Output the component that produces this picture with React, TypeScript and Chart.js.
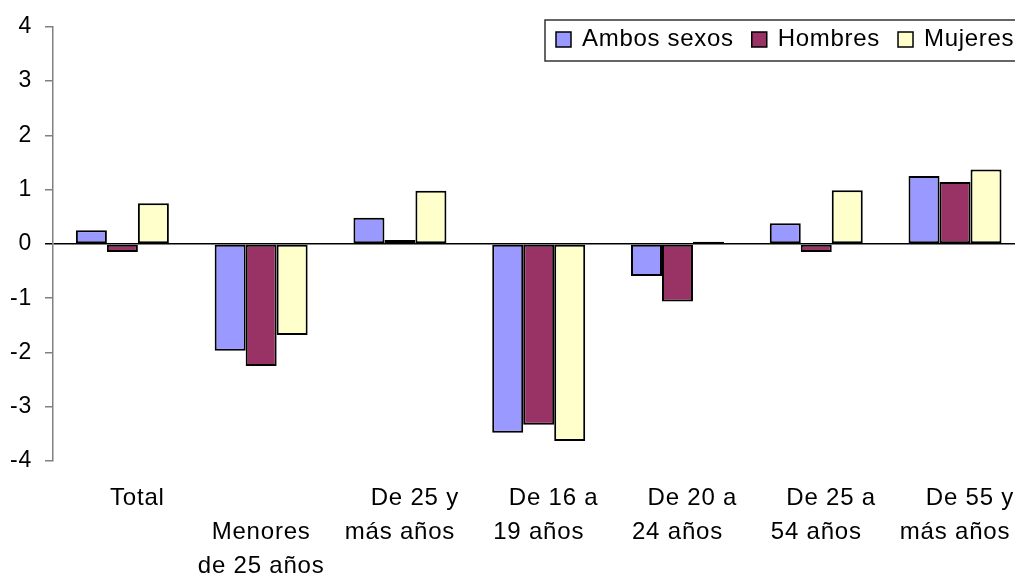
import React, { useEffect, useRef } from "react";
import { Chart, registerables } from "chart.js";

Chart.register(...registerables);

const FONT = "'Liberation Sans', Arial, sans-serif";

const categories: string[][] = [
  ["    Total"],
  ["", "Menores", "de 25 años"],
  ["    De 25 y", "más años"],
  ["    De 16 a", "19 años"],
  ["    De 20 a", "24 años"],
  ["    De 25 a", "54 años"],
  ["    De 55 y", "más años"],
];

const seriesNames = ["Ambos sexos", "Hombres", "Mujeres"];
const ambosSexos = [0.25, -1.97, 0.48, -3.48, -0.59, 0.38, 1.25];
const hombres = [-0.15, -2.25, 0.07, -3.33, -1.06, -0.15, 1.14];
const mujeres = [0.75, -1.68, 0.98, -3.63, 0.04, 0.99, 1.37];
const seriesColors = ["#9999FF", "#993366", "#FFFFCC"];

const yMin = -4;
const yMax = 4;
const yStep = 1;

const spacingPlugin = {
  id: "spacing",
  beforeDraw(chart: any) {
    (chart.ctx as any).letterSpacing = "0.8px";
  },
};

const boxLegend = {
  id: "boxLegend",
  afterDraw(chart: any) {
    const ctx = chart.ctx as any;
    ctx.save();
    ctx.letterSpacing = "0.7px";
    ctx.font = `24px ${FONT}`;
    const bx = 545;
    const by = 20;
    const bh = 41;
    ctx.fillStyle = "#fff";
    ctx.fillRect(bx, by, 520, bh);
    ctx.strokeStyle = "#333";
    ctx.lineWidth = 1.5;
    ctx.strokeRect(bx, by, 520, bh);
    let x = 556;
    const sq = 15;
    const sy = 32;
    chart.data.datasets.forEach((ds: any) => {
      ctx.fillStyle = ds.backgroundColor;
      ctx.fillRect(x, sy, sq, sq);
      ctx.strokeStyle = "#000";
      ctx.lineWidth = 1.5;
      ctx.strokeRect(x, sy, sq, sq);
      x += sq + 11;
      ctx.fillStyle = "#000";
      ctx.textAlign = "left";
      ctx.textBaseline = "alphabetic";
      ctx.fillText(ds.label, x, 46);
      x += ctx.measureText(ds.label).width + 18;
    });
    ctx.restore();
  },
};

export default function App() {
  const ref = useRef<HTMLCanvasElement | null>(null);

  useEffect(() => {
    if (!ref.current) return;
    const values = [ambosSexos, hombres, mujeres];
    const chart = new Chart(ref.current, {
      type: "bar",
      data: {
        labels: categories,
        datasets: seriesNames.map((name, i) => ({
          label: name,
          data: values[i],
          backgroundColor: seriesColors[i],
          borderColor: "#000",
          borderWidth: 2,
          borderSkipped: false,
          barPercentage: 1,
          categoryPercentage: 0.67,
        })),
      },
      options: {
        animation: false,
        responsive: false,
        maintainAspectRatio: false,
        layout: { padding: { left: 0, right: 4, top: 24, bottom: 0 } },
        plugins: {
          legend: { display: false },
          tooltip: { enabled: false },
        },
        scales: {
          x: {
            grid: { display: false, drawTicks: false },
            border: { display: false },
            ticks: {
              color: "#000",
              font: { size: 24, family: FONT, lineHeight: 34 / 24 },
              padding: 20,
              maxRotation: 0,
              autoSkip: false,
            },
            afterFit: (s: any) => {
              s.height = 116;
            },
          },
          y: {
            min: yMin,
            max: yMax,
            ticks: {
              stepSize: yStep,
              color: "#000",
              font: { size: 23, family: FONT },
              padding: 13,
            },
            grid: {
              color: (c: any) => (c.tick && c.tick.value === 0 ? "#000" : "rgba(0,0,0,0)"),
              lineWidth: 1.5,
              tickColor: (c: any) => (c.tick && c.tick.value === 0 ? "#000" : "#808080"),
              tickLength: 8,
              tickWidth: 1.5,
            },
            border: { color: "#808080", width: 1.5 },
            afterFit: (s: any) => {
              s.width = 53;
            },
          },
        },
      },
      plugins: [spacingPlugin, boxLegend],
    });
    return () => chart.destroy();
  }, []);

  return (
    <div
      style={{
        position: "fixed",
        left: 0,
        top: 0,
        width: 1015,
        height: 577,
        overflow: "hidden",
        background: "#fff",
      }}
    >
      <canvas ref={ref} width={1030} height={577} style={{ display: "block" }} />
    </div>
  );
}
